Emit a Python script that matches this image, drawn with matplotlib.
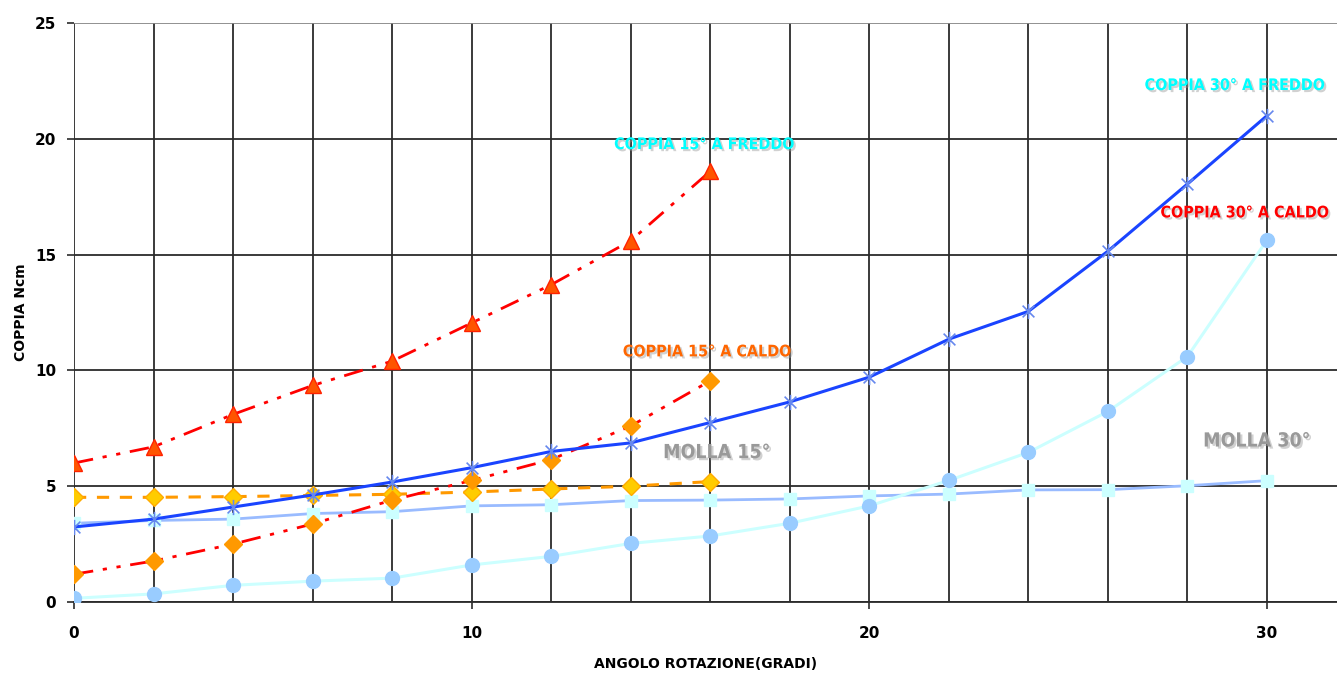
import matplotlib
matplotlib.use("Agg")
import matplotlib.pyplot as plt
import matplotlib.patheffects as pe
from matplotlib.path import Path

# ---------------- data ----------------
angle_15 = [0, 2, 4, 6, 8, 10, 12, 14, 16]
angle_30 = [0, 2, 4, 6, 8, 10, 12, 14, 16, 18, 20, 22, 24, 26, 28, 30]

coppia15_freddo = [6.0, 6.7, 8.1, 9.35, 10.4, 12.05, 13.7, 15.6, 18.6]
coppia15_caldo = [1.2, 1.77, 2.5, 3.37, 4.4, 5.25, 6.15, 7.6, 9.55]
molla15 = [4.52, 4.52, 4.55, 4.6, 4.65, 4.75, 4.88, 5.0, 5.2]

coppia30_freddo = [3.24, 3.58, 4.1, 4.62, 5.18, 5.8, 6.5, 6.87, 7.75, 8.64,
                   9.71, 11.35, 12.55, 15.15, 18.05, 21.0]
coppia30_caldo = [0.16, 0.35, 0.72, 0.9, 1.03, 1.6, 1.97, 2.53, 2.85, 3.4,
                  4.15, 5.25, 6.46, 8.23, 10.6, 15.63]
molla30 = [3.4, 3.52, 3.58, 3.82, 3.9, 4.15, 4.2, 4.38, 4.4, 4.45,
           4.58, 4.66, 4.84, 4.85, 5.02, 5.24]

x_ticks = [0, 10, 20, 30]
y_ticks = [0, 5, 10, 15, 20, 25]
x_grid = list(range(0, 32, 2))

labels = {
    "c15f": "COPPIA 15° A FREDDO",
    "c15c": "COPPIA 15° A CALDO",
    "c30f": "COPPIA 30° A FREDDO",
    "c30c": "COPPIA 30° A CALDO",
    "m15": "MOLLA 15°",
    "m30": "MOLLA 30°",
}

# ---------------- figure ----------------
fig = plt.figure(figsize=(13.37, 6.75), dpi=100)
ax = fig.add_axes([74 / 1337, 73 / 675, 1 - 74 / 1337, 579 / 675])
ax.set_xlim(0, 31.76)
ax.set_ylim(0, 25)

grid_c = "#2b2b2b"
for gx in x_grid:
    ax.axvline(gx, color=grid_c, lw=1.3, zorder=1)
for gy in y_ticks:
    ax.axhline(gy, color=grid_c if gy != 25 else "#888888", lw=1.3, zorder=1)

for s in ["top", "right", "left"]:
    ax.spines[s].set_visible(False)
ax.spines["bottom"].set_color(grid_c)
ax.spines["bottom"].set_linewidth(1.3)

ax.set_xticks(x_ticks)
ax.set_yticks(y_ticks)
ax.tick_params(axis="both", length=5, width=1.2, color=grid_c, labelsize=11)
ax.tick_params(axis="x", pad=12)
ax.tick_params(axis="y", pad=8)
for lab in ax.get_xticklabels() + ax.get_yticklabels():
    lab.set_fontweight("bold")

ax.set_xlabel("ANGOLO ROTAZIONE(GRADI)", fontsize=10, fontweight="bold", labelpad=12)
ax.set_ylabel("COPPIA Ncm", fontsize=10, fontweight="bold", labelpad=5)

# star marker (x + vertical)
star = Path([(-1, -1), (1, 1), (-1, 1), (1, -1), (0, -1.3), (0, 1.3)],
            [Path.MOVETO, Path.LINETO, Path.MOVETO, Path.LINETO, Path.MOVETO, Path.LINETO])

# ---------------- series ----------------
ax.plot(angle_30, molla30, color="#99bbff", lw=2.0, marker="s", ms=9,
        mfc="#ccffff", mec="#ccffff", zorder=3)
ax.plot(angle_30, coppia30_caldo, color="#ccffff", lw=2.2, marker="o", ms=10,
        mfc="#99ccff", mec="#99ccff", zorder=4)
ax.plot(angle_15, molla15, color="#ff9900", lw=2.2, dashes=(4, 3.5), marker="D",
        ms=9, mfc="#ffcc00", mec="#ffaa00", zorder=5)
ax.plot(angle_15, coppia15_caldo, color="#ff0000", lw=2.0,
        dashes=(7, 3.5, 1.5, 3.5, 1.5, 3.5), marker="D", ms=9,
        mfc="#ff9900", mec="#ff9900", zorder=5)
ax.plot(angle_30, coppia30_freddo, color="#1a44ff", lw=2.2, marker=star, ms=11,
        mec="#6688ee", mew=1.2, zorder=6)
ax.plot(angle_15, coppia15_freddo, color="#ff0000", lw=2.0,
        dashes=(7, 3.5, 1.5, 3.5, 1.5, 3.5), marker="^", ms=11,
        mfc="#ff5500", mec="#ff2200", zorder=6)

# ---------------- annotations ----------------
shadow = [pe.SimplePatchShadow(offset=(1.5, -1.5), shadow_rgbFace="#999999", alpha=0.45),
          pe.Normal()]


def note(x, y, text, color, size=11.5):
    ax.text(x, y, text, color=color, fontsize=size, fontweight="bold",
            family="DejaVu Sans", fontstretch="condensed",
            ha="center", va="center", zorder=10, path_effects=shadow)


note(15.86, 19.75, labels["c15f"], "#00ffff")
note(15.93, 10.8, labels["c15c"], "#ff6600")
note(29.2, 22.3, labels["c30f"], "#00ffff")
note(29.45, 16.8, labels["c30c"], "#ff0000")
note(16.17, 6.45, labels["m15"], "#999999", 14)
note(29.75, 6.95, labels["m30"], "#999999", 14)

fig.savefig("out.png", dpi=100)
